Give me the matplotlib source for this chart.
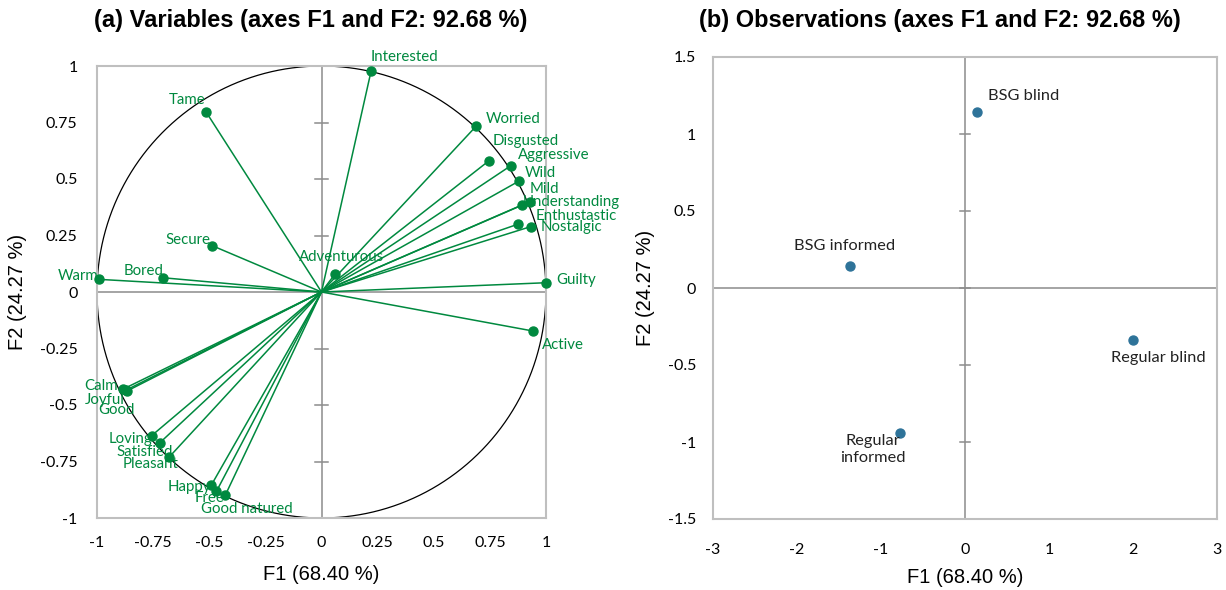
import numpy as np
import matplotlib
matplotlib.use("Agg")
import matplotlib.pyplot as plt

# ---- data: variable loadings on F1 / F2 ----
var_names = [
    "Interested", "Tame", "Worried", "Disgusted", "Aggressive", "Wild", "Mild",
    "Understanding", "Enthustastic", "Nostalgic", "Guilty", "Active",
    "Adventurous", "Secure", "Bored", "Warm", "Calm", "Joyful", "Good",
    "Loving", "Satisfied", "Pleasant", "Happy", "Free", "Good natured",
]
var_f1 = [
    0.221, -0.515, 0.690, 0.745, 0.842, 0.880, 0.928,
    0.895, 0.875, 0.931, 1.000, 0.944,
    0.059, -0.487, -0.705, -0.992, -0.882, -0.870, -0.866,
    -0.757, -0.720, -0.680, -0.491, -0.468, -0.428,
]
var_f2 = [
    0.978, 0.798, 0.735, 0.580, 0.558, 0.491, 0.400,
    0.385, 0.300, 0.289, 0.041, -0.173,
    0.078, 0.205, 0.063, 0.056, -0.429, -0.434, -0.438,
    -0.636, -0.667, -0.732, -0.855, -0.882, -0.898,
]

# ---- data: observations on F1 / F2 ----
obs_names = ["BSG blind", "BSG informed", "Regular blind", "Regular\ninformed"]
obs_f1 = [0.14, -1.37, 2.00, -0.77]
obs_f2 = [1.145, 0.145, -0.34, -0.94]

title_a = "(a) Variables (axes F1 and F2: 92.68 %)"
title_b = "(b) Observations (axes F1 and F2: 92.68 %)"
xlabel = "F1 (68.40 %)"
ylabel = "F2 (24.27 %)"

ticks_a = [-1, -0.75, -0.5, -0.25, 0, 0.25, 0.5, 0.75, 1]
ticklabels_a = ["-1", "-0.75", "-0.5", "-0.25", "0", "0.25", "0.5", "0.75", "1"]
xticks_b = [-3, -2, -1, 0, 1, 2, 3]
yticks_b = [-1.5, -1, -0.5, 0, 0.5, 1, 1.5]
yticklabels_b = ["-1.5", "-1", "-0.5", "0", "0.5", "1", "1.5"]

# label placement (pixel offsets from point, horizontal alignment)
var_label_pos = {
    "Interested": (0, 14, "left"), "Tame": (0, 12, "right"),
    "Worried": (9, 7, "left"), "Disgusted": (4, 20, "left"),
    "Aggressive": (7, 11, "left"), "Wild": (6, 8, "left"),
    "Mild": (0, 13, "left"), "Understanding": (0, 3, "left"),
    "Enthustastic": (18, 8, "left"), "Nostalgic": (10, 0, "left"),
    "Guilty": (10, 3, "left"), "Active": (9, -14, "left"),
    "Adventurous": (7, 17, "center"), "Secure": (-2, 6, "right"),
    "Bored": (0, 7, "right"), "Warm": (0, 3, "right"),
    "Calm": (-6, 3, "right"), "Joyful": (-1, -10, "right"),
    "Good": (8, -19, "right"), "Loving": (1, -3, "right"),
    "Satisfied": (13, -9, "right"), "Pleasant": (10, -7, "right"),
    "Happy": (0, -2, "right"), "Free": (8, -7, "right"),
    "Good natured": (-24, -14, "left"),
}
obs_label_pos = [(11, 16, "left"), (-5, 20, "center"), (25, -18, "center"), (-27, -17, "center")]

GREEN = "#00893F"
BLUE = "#2E7399"
BOX = "#BFBFBF"
AXIS = "#8C8C8C"
TICKFONT = "Lato"
TITLEFONT = "Liberation Sans"

fig = plt.figure(figsize=(12.26, 5.90), dpi=100)
px = 0.72  # points per pixel at dpi 100


def style_axes(ax, xt, xtl, yt, ytl, xlim, ylim, tick_len, xpad, ypad):
    ax.set_xlim(*xlim)
    ax.set_ylim(*ylim)
    ax.set_xticks(xt)
    ax.set_xticklabels(xtl, fontfamily=TICKFONT, fontsize=11.5)
    ax.set_yticks(yt)
    ax.set_yticklabels(ytl, fontfamily=TICKFONT, fontsize=11.5)
    ax.tick_params(axis="x", length=0, pad=xpad)
    ax.tick_params(axis="y", length=0, pad=ypad)
    for s in ax.spines.values():
        s.set_color(BOX)
        s.set_linewidth(1.5)
    ax.axhline(0, color=AXIS, lw=1.1, zorder=1)
    ax.axvline(0, color=AXIS, lw=1.1, zorder=1)
    # small cross ticks on the vertical zero axis (Excel style)
    for v in yt:
        ax.plot([-tick_len, tick_len], [v, v], color=AXIS, lw=1.1, zorder=1)
    ax.set_xlabel(xlabel, fontfamily=TITLEFONT, fontsize=14.5)
    ax.set_ylabel(ylabel, fontfamily=TITLEFONT, fontsize=14.5)


# ---- (a) variables ----
ax1 = fig.add_axes([97 / 1226, 1 - 518 / 590, 449 / 1226, 452 / 590])
style_axes(ax1, ticks_a, ticklabels_a, ticks_a, ticklabels_a,
           (-1, 1), (-1, 1), 0.03, 13, 14)
theta = np.linspace(0, 2 * np.pi, 400)
ax1.plot(np.cos(theta), np.sin(theta), color="black", lw=0.9, zorder=2, clip_on=False)
for name, x, y in zip(var_names, var_f1, var_f2):
    ax1.plot([0, x], [0, y], color=GREEN, lw=1.1, zorder=3)
    ax1.plot(x, y, "o", color=GREEN, ms=6.5, zorder=4, clip_on=False)
    dx, dy, ha = var_label_pos[name]
    ax1.annotate(name, (x, y), xytext=(dx * px, dy * px), textcoords="offset points",
                 ha=ha, va="center", color=GREEN, fontsize=10.8,
                 fontfamily=TICKFONT, zorder=5, annotation_clip=False)
ax1.yaxis.set_label_coords(-0.155, 0.5)
ax1.xaxis.set_label_coords(0.5, -0.105)

# ---- (b) observations ----
ax2 = fig.add_axes([713 / 1226, 1 - 519 / 590, 504 / 1226, 462 / 590])
style_axes(ax2, xticks_b, [str(v) for v in xticks_b], yticks_b, yticklabels_b,
           (-3, 3), (-1.5, 1.5), 0.065, 17, 12)
ax2.scatter(obs_f1, obs_f2, s=42, color=BLUE, zorder=4)
for (name, x, y), (dx, dy, ha) in zip(zip(obs_names, obs_f1, obs_f2), obs_label_pos):
    ax2.annotate(name, (x, y), xytext=(dx * px, dy * px), textcoords="offset points",
                 ha=ha, va="center", color="#222222", fontsize=11.8,
                 fontfamily=TICKFONT, linespacing=1.3, zorder=5)
ax2.yaxis.set_label_coords(-0.115, 0.5)
ax2.xaxis.set_label_coords(0.5, -0.105)

fig.text(311 / 1226, 1 - 20 / 590, title_a, ha="center", va="center",
         fontsize=17, fontweight="bold", fontfamily=TITLEFONT)
fig.text(940 / 1226, 1 - 20 / 590, title_b, ha="center", va="center",
         fontsize=17, fontweight="bold", fontfamily=TITLEFONT)

fig.savefig("out.png", dpi=100, facecolor="white")
